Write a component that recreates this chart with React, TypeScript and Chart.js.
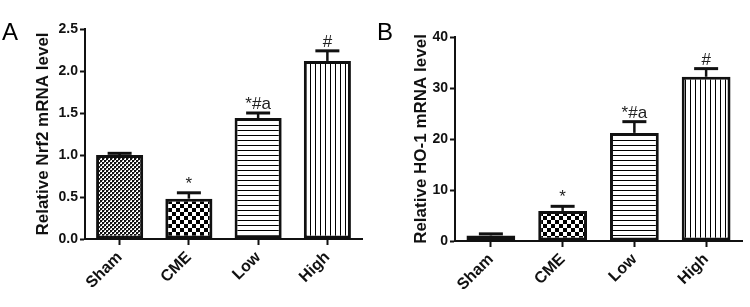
import React, { useEffect, useRef } from "react";
import { Chart, registerables } from "chart.js";

Chart.register(...registerables);

const categories = ["Sham", "CME", "Low", "High"];
const nrf2Values = [1.0, 0.48, 1.44, 2.12];
const nrf2Errors = [0.02, 0.07, 0.06, 0.12];
const ho1Values = [1.1, 5.9, 21.2, 32.2];
const ho1Errors = [0.3, 0.9, 2.2, 1.6];
const annotations = ["", "*", "*#a", "#"];
const nrf2Ticks = [0, 0.5, 1.0, 1.5, 2.0, 2.5];
const ho1Ticks = [0, 10, 20, 30, 40];

function makePattern(kind: string): CanvasPattern | string {
  const c = document.createElement("canvas");
  const ctx = c.getContext("2d")!;
  if (kind === "fine") {
    c.width = 4; c.height = 4;
    ctx.fillStyle = "#fff"; ctx.fillRect(0, 0, 4, 4);
    ctx.fillStyle = "#111";
    ctx.fillRect(0, 0, 2, 2); ctx.fillRect(2, 2, 2, 2);
    ctx.fillStyle = "#777";
    ctx.fillRect(2, 0, 1, 1); ctx.fillRect(0, 2, 1, 1);
  } else if (kind === "coarse") {
    c.width = 8; c.height = 8;
    ctx.fillStyle = "#fff"; ctx.fillRect(0, 0, 8, 8);
    ctx.fillStyle = "#000";
    ctx.fillRect(0, 0, 4, 4); ctx.fillRect(4, 4, 4, 4);
  } else if (kind === "hlines") {
    c.width = 5; c.height = 5;
    ctx.fillStyle = "#fff"; ctx.fillRect(0, 0, 5, 5);
    ctx.fillStyle = "#000"; ctx.fillRect(0, 0, 5, 1);
  } else {
    c.width = 5; c.height = 5;
    ctx.fillStyle = "#fff"; ctx.fillRect(0, 0, 5, 5);
    ctx.fillStyle = "#000"; ctx.fillRect(0, 0, 1, 5);
  }
  const p = document.createElement("canvas").getContext("2d")!.createPattern(c, "repeat");
  return p || "#888";
}

type PanelProps = {
  letter: string;
  values: number[];
  errors: number[];
  ticks: number[];
  decimals: number;
  title: string;
  layout: { right: number; top: number; yWidth: number; xHeight: number; titleCenter: number };
};

function Panel({ letter, values, errors, ticks, decimals, title, layout }: PanelProps) {
  const ref = useRef<HTMLCanvasElement | null>(null);
  useEffect(() => {
    if (!ref.current) return;
    const fills = [makePattern("fine"), makePattern("coarse"), makePattern("hlines"), makePattern("vlines")];
    const errPlugin = {
      id: "errbars",
      afterDatasetsDraw(chart: any) {
        const ctx = chart.ctx;
        const meta = chart.getDatasetMeta(0);
        const ys = chart.scales.y;
        ctx.save();
        ctx.strokeStyle = "#111";
        meta.data.forEach((bar: any, i: number) => {
          const yTop = ys.getPixelForValue(values[i]);
          const yCap = ys.getPixelForValue(values[i] + errors[i]);
          ctx.lineWidth = 2.5;
          ctx.beginPath();
          ctx.moveTo(bar.x, yTop);
          ctx.lineTo(bar.x, yCap);
          ctx.stroke();
          ctx.lineWidth = 3;
          ctx.beginPath();
          ctx.moveTo(bar.x - 12, yCap);
          ctx.lineTo(bar.x + 12, yCap);
          ctx.stroke();
          if (annotations[i]) {
            ctx.fillStyle = "#222";
            ctx.font = "17px 'Liberation Sans', Arial, sans-serif";
            ctx.textAlign = "center";
            ctx.textBaseline = "alphabetic";
            ctx.fillText(annotations[i], bar.x, yCap - 4);
          }
        });
        ctx.fillStyle = "#000";
        ctx.font = "24px 'Liberation Sans', Arial, sans-serif";
        ctx.textAlign = "left";
        ctx.fillText(letter, 2, 40);
        ctx.restore();
      },
    };
    const chart = new Chart(ref.current, {
      type: "bar",
      data: {
        labels: categories,
        datasets: [
          {
            data: values,
            backgroundColor: fills as any,
            borderColor: "#111",
            borderWidth: 3,
            borderSkipped: false,
            barPercentage: 0.68,
            categoryPercentage: 1,
          },
        ],
      },
      options: {
        animation: false,
        responsive: false,
        events: [],
        layout: { padding: { left: 0, right: layout.right, top: layout.top, bottom: 0 } },
        plugins: { legend: { display: false }, tooltip: { enabled: false } },
        scales: {
          x: {
            offset: true,
            afterFit: (s: any) => { s.height = layout.xHeight; },
            grid: { offset: false, drawOnChartArea: false, drawTicks: true, tickLength: 6, tickWidth: 2, tickColor: "#111" },
            border: { display: true, color: "#111", width: 2 },
            ticks: {
              color: "#111",
              minRotation: 45,
              maxRotation: 45,
              padding: 3,
              font: { family: "'Liberation Sans', Arial, sans-serif", size: 16, weight: "bold" },
            },
          },
          y: {
            min: ticks[0],
            max: ticks[ticks.length - 1],
            afterFit: (s: any) => { s.width = layout.yWidth; },
            afterBuildTicks: (s: any) => { s.ticks = ticks.map((v) => ({ value: v })); },
            grid: { drawOnChartArea: false, drawTicks: true, tickLength: 5, tickWidth: 2, tickColor: "#111" },
            border: { display: true, color: "#111", width: 2 },
            ticks: {
              color: "#111",
              padding: 2,
              callback: (v: any) => Number(v).toFixed(decimals),
              font: { family: "'Liberation Sans', Arial, sans-serif", size: 14, weight: "bold" },
            },
            title: {
              display: true,
              text: title,
              color: "#111",
              padding: { top: layout.titleCenter - 10, bottom: 0 },
              font: { family: "'Liberation Sans', Arial, sans-serif", size: 17, weight: "bold", lineHeight: 1.2 },
            },
          },
        },
      },
      plugins: [errPlugin],
    });
    return () => chart.destroy();
  }, []);
  return <canvas ref={ref} width={375} height={307} style={{ display: "block" }} />;
}

export default function App() {
  return (
    <div style={{ position: "absolute", left: 0, top: 0, width: 750, height: 307, background: "#fff", display: "flex" }}>
      <Panel
        letter="A"
        values={nrf2Values}
        errors={nrf2Errors}
        ticks={nrf2Ticks}
        decimals={1}
        title="Relative Nrf2 mRNA level"
        layout={{ right: 13, top: 29, yWidth: 85, xHeight: 68, titleCenter: 43 }}
      />
      <Panel
        letter="B"
        values={ho1Values}
        errors={ho1Errors}
        ticks={ho1Ticks}
        decimals={0}
        title="Relative HO-1 mRNA level"
        layout={{ right: 8, top: 37, yWidth: 80, xHeight: 66, titleCenter: 46 }}
      />
    </div>
  );
}
